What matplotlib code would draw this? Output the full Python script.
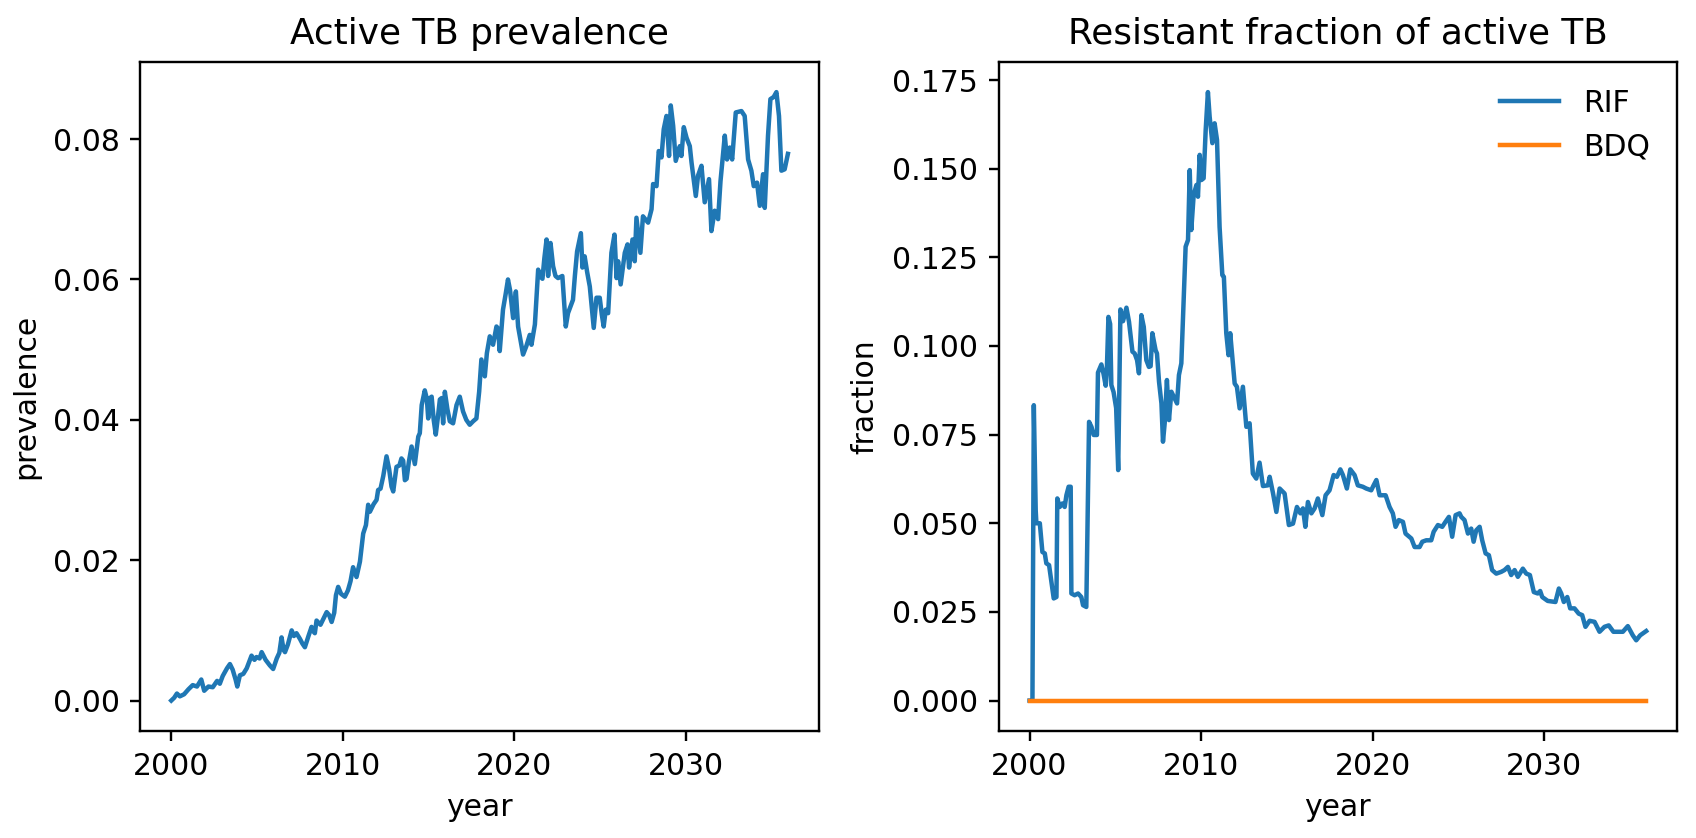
import matplotlib
matplotlib.use("Agg")
import matplotlib.pyplot as plt
from matplotlib.ticker import MultipleLocator

# active TB prevalence
prev_years = [
    2000.00, 2000.17, 2000.33, 2000.50, 2000.75, 2001.00, 2001.25, 2001.50, 2001.75, 2001.92,
    2002.17, 2002.42, 2002.67, 2002.83, 2003.00, 2003.25, 2003.42, 2003.58, 2003.75, 2003.85,
    2004.00, 2004.20, 2004.40, 2004.68, 2004.85, 2004.97, 2005.15, 2005.27, 2005.50, 2005.75,
    2005.94, 2006.15, 2006.30, 2006.43, 2006.55, 2006.63, 2006.80, 2007.02, 2007.15, 2007.30,
    2007.50, 2007.65, 2007.79, 2008.00, 2008.18, 2008.30, 2008.37, 2008.47, 2008.70, 2008.90,
    2009.06, 2009.20, 2009.35, 2009.50, 2009.60, 2009.73, 2009.90, 2010.12, 2010.30, 2010.45,
    2010.60, 2010.80, 2011.00, 2011.19, 2011.35, 2011.48, 2011.58, 2011.80, 2011.97, 2012.06,
    2012.20, 2012.36, 2012.55, 2012.70, 2012.84, 2012.94, 2013.13, 2013.30, 2013.42, 2013.52,
    2013.62, 2013.72, 2013.85, 2014.01, 2014.20, 2014.40, 2014.49, 2014.60, 2014.78, 2014.90,
    2014.98, 2015.08, 2015.18, 2015.30, 2015.42, 2015.55, 2015.66, 2015.76, 2015.85, 2015.95,
    2016.10, 2016.24, 2016.43, 2016.63, 2016.82, 2017.01, 2017.20, 2017.40, 2017.60, 2017.79,
    2017.95, 2018.08, 2018.28, 2018.40, 2018.57, 2018.76, 2018.96, 2019.05, 2019.15, 2019.34,
    2019.50, 2019.63, 2019.75, 2019.93, 2020.09, 2020.22, 2020.35, 2020.51, 2020.70, 2020.90,
    2021.00, 2021.20, 2021.39, 2021.49, 2021.64, 2021.75, 2021.88, 2021.97, 2022.11, 2022.26,
    2022.40, 2022.55, 2022.80, 2022.90, 2023.00, 2023.13, 2023.42, 2023.53, 2023.66, 2023.88,
    2023.97, 2024.10, 2024.25, 2024.40, 2024.52, 2024.63, 2024.79, 2024.98, 2025.10, 2025.21,
    2025.33, 2025.47, 2025.66, 2025.84, 2025.96, 2026.05, 2026.20, 2026.44, 2026.60, 2026.69,
    2026.89, 2027.02, 2027.12, 2027.35, 2027.50, 2027.80, 2028.00, 2028.09, 2028.29, 2028.42,
    2028.58, 2028.71, 2028.87, 2029.02, 2029.12, 2029.26, 2029.41, 2029.65, 2029.74, 2029.88,
    2030.04, 2030.23, 2030.33, 2030.58, 2030.71, 2030.91, 2031.10, 2031.35, 2031.49, 2031.68,
    2031.88, 2032.02, 2032.27, 2032.40, 2032.56, 2032.70, 2032.91, 2033.24, 2033.43, 2033.63,
    2033.82, 2033.96, 2034.15, 2034.31, 2034.50, 2034.60, 2034.79, 2034.93, 2035.12, 2035.28,
    2035.43, 2035.57, 2035.76, 2035.95,
]
prevalence = [
    0.0000, 0.0004, 0.0010, 0.0006, 0.0009, 0.0016, 0.0022, 0.0020, 0.0030, 0.0014,
    0.0020, 0.0019, 0.0028, 0.0024, 0.0035, 0.0046, 0.0052, 0.0044, 0.0030, 0.0020,
    0.0036, 0.0038, 0.0046, 0.0064, 0.0058, 0.0062, 0.0060, 0.0069, 0.0058, 0.0050,
    0.0045, 0.0060, 0.0068, 0.0090, 0.0072, 0.0069, 0.0080, 0.0100, 0.0092, 0.0096,
    0.0088, 0.0081, 0.0076, 0.0092, 0.0105, 0.0098, 0.0096, 0.0114, 0.0108, 0.0118,
    0.0126, 0.0122, 0.0112, 0.0125, 0.0150, 0.0162, 0.0152, 0.0148, 0.0157, 0.0170,
    0.0190, 0.0176, 0.0198, 0.0238, 0.0250, 0.0279, 0.0269, 0.0280, 0.0286, 0.0300,
    0.0302, 0.0320, 0.0348, 0.0330, 0.0305, 0.0298, 0.0333, 0.0335, 0.0345, 0.0342,
    0.0314, 0.0316, 0.0340, 0.0362, 0.0337, 0.0376, 0.0381, 0.0421, 0.0442, 0.0430,
    0.0402, 0.0431, 0.0433, 0.0400, 0.0379, 0.0405, 0.0429, 0.0431, 0.0395, 0.0440,
    0.0415, 0.0398, 0.0395, 0.0421, 0.0433, 0.0412, 0.0400, 0.0393, 0.0398, 0.0402,
    0.0440, 0.0486, 0.0462, 0.0495, 0.0519, 0.0507, 0.0533, 0.0530, 0.0498, 0.0557,
    0.0580, 0.0600, 0.0585, 0.0545, 0.0583, 0.0533, 0.0515, 0.0493, 0.0505, 0.0521,
    0.0507, 0.0536, 0.0614, 0.0605, 0.0601, 0.0630, 0.0657, 0.0605, 0.0652, 0.0619,
    0.0605, 0.0602, 0.0605, 0.0570, 0.0533, 0.0552, 0.0571, 0.0605, 0.0640, 0.0666,
    0.0617, 0.0633, 0.0610, 0.0590, 0.0560, 0.0531, 0.0574, 0.0574, 0.0550, 0.0533,
    0.0557, 0.0552, 0.0638, 0.0664, 0.0602, 0.0626, 0.0593, 0.0638, 0.0650, 0.0617,
    0.0657, 0.0626, 0.0688, 0.0638, 0.0690, 0.0681, 0.0700, 0.0736, 0.0733, 0.0783,
    0.0774, 0.0814, 0.0833, 0.0776, 0.0848, 0.0819, 0.0769, 0.0790, 0.0776, 0.0817,
    0.0802, 0.0790, 0.0767, 0.0719, 0.0748, 0.0762, 0.0710, 0.0743, 0.0669, 0.0698,
    0.0686, 0.0740, 0.0805, 0.0771, 0.0788, 0.0771, 0.0838, 0.0840, 0.0833, 0.0771,
    0.0755, 0.0733, 0.0738, 0.0705, 0.0750, 0.0702, 0.0805, 0.0857, 0.0860, 0.0867,
    0.0833, 0.0755, 0.0757, 0.0779,
]

# resistant fraction of active TB
rif_years = [
    2000.00, 2000.17, 2000.25, 2000.36, 2000.40, 2000.60, 2000.75, 2000.89, 2000.98, 2001.14,
    2001.41, 2001.57, 2001.62, 2001.76, 2001.92, 2002.05, 2002.15, 2002.28, 2002.40, 2002.44,
    2002.63, 2002.83, 2003.02, 2003.12, 2003.31, 2003.47, 2003.61, 2003.74, 2003.93, 2003.99,
    2004.19, 2004.32, 2004.44, 2004.50, 2004.60, 2004.70, 2004.77, 2004.90, 2005.05, 2005.17,
    2005.30, 2005.45, 2005.65, 2005.80, 2006.00, 2006.13, 2006.27, 2006.38, 2006.52, 2006.66,
    2006.81, 2006.96, 2007.06, 2007.16, 2007.35, 2007.43, 2007.55, 2007.69, 2007.78, 2007.88,
    2008.01, 2008.13, 2008.27, 2008.46, 2008.60, 2008.71, 2008.85, 2008.95, 2009.10, 2009.24,
    2009.34, 2009.43, 2009.57, 2009.73, 2009.82, 2009.92, 2010.02, 2010.15, 2010.27, 2010.40,
    2010.50, 2010.66, 2010.79, 2010.93, 2011.08, 2011.24, 2011.33, 2011.47, 2011.60, 2011.70,
    2011.82, 2011.96, 2012.09, 2012.25, 2012.44, 2012.64, 2012.83, 2013.02, 2013.22, 2013.41,
    2013.61, 2013.90, 2014.00, 2014.19, 2014.39, 2014.58, 2014.87, 2015.12, 2015.36, 2015.59,
    2015.79, 2015.94, 2016.08, 2016.23, 2016.43, 2016.62, 2016.81, 2017.07, 2017.26, 2017.49,
    2017.73, 2017.92, 2018.12, 2018.27, 2018.50, 2018.70, 2018.95, 2019.14, 2019.43, 2019.63,
    2019.92, 2020.06, 2020.22, 2020.41, 2020.76, 2020.99, 2021.18, 2021.34, 2021.53, 2021.77,
    2021.92, 2022.26, 2022.45, 2022.74, 2022.90, 2023.13, 2023.42, 2023.56, 2023.81, 2024.06,
    2024.25, 2024.45, 2024.64, 2024.84, 2025.07, 2025.17, 2025.36, 2025.56, 2025.75, 2025.89,
    2026.04, 2026.24, 2026.39, 2026.59, 2026.78, 2026.97, 2027.21, 2027.50, 2027.69, 2027.89,
    2028.08, 2028.28, 2028.47, 2028.76, 2028.96, 2029.17, 2029.40, 2029.63, 2029.77, 2029.89,
    2030.21, 2030.66, 2030.86, 2031.00, 2031.15, 2031.35, 2031.52, 2031.77, 2032.02, 2032.22,
    2032.41, 2032.65, 2032.94, 2033.23, 2033.52, 2033.77, 2034.04, 2034.59, 2034.88, 2035.17,
    2035.37, 2035.60, 2035.95,
]
rif_fraction = [
    0.0000, 0.0000, 0.0833, 0.0537, 0.0500, 0.0500, 0.0419, 0.0415, 0.0387, 0.0382,
    0.0288, 0.0292, 0.0570, 0.0546, 0.0556, 0.0546, 0.0579, 0.0603, 0.0603, 0.0302,
    0.0297, 0.0302, 0.0292, 0.0269, 0.0264, 0.0786, 0.0772, 0.0749, 0.0749, 0.0925,
    0.0948, 0.0920, 0.0888, 0.0920, 0.1082, 0.1062, 0.0890, 0.0870, 0.0825, 0.0650,
    0.1103, 0.1070, 0.1108, 0.1068, 0.0984, 0.0979, 0.0960, 0.0923, 0.1087, 0.1054,
    0.0960, 0.0941, 0.0943, 0.1036, 0.0988, 0.0979, 0.0899, 0.0838, 0.0730, 0.0782,
    0.0904, 0.0791, 0.0871, 0.0852, 0.0838, 0.0918, 0.0951, 0.1082, 0.1280, 0.1299,
    0.1496, 0.1327, 0.1426, 0.1454, 0.1421, 0.1539, 0.1468, 0.1473, 0.1609, 0.1716,
    0.1647, 0.1572, 0.1628, 0.1581, 0.1336, 0.1200, 0.1195, 0.1036, 0.0974, 0.1036,
    0.0970, 0.0894, 0.0885, 0.0824, 0.0885, 0.0772, 0.0782, 0.0640, 0.0626, 0.0671,
    0.0605, 0.0607, 0.0631, 0.0586, 0.0532, 0.0598, 0.0584, 0.0495, 0.0499, 0.0546,
    0.0528, 0.0542, 0.0490, 0.0560, 0.0528, 0.0542, 0.0570, 0.0523, 0.0579, 0.0593,
    0.0636, 0.0631, 0.0652, 0.0636, 0.0598, 0.0652, 0.0636, 0.0607, 0.0603, 0.0598,
    0.0593, 0.0607, 0.0622, 0.0579, 0.0579, 0.0546, 0.0528, 0.0490, 0.0509, 0.0504,
    0.0471, 0.0457, 0.0433, 0.0433, 0.0448, 0.0452, 0.0452, 0.0476, 0.0495, 0.0490,
    0.0504, 0.0518, 0.0462, 0.0523, 0.0528, 0.0518, 0.0509, 0.0471, 0.0485, 0.0448,
    0.0480, 0.0490, 0.0452, 0.0415, 0.0410, 0.0368, 0.0358, 0.0363, 0.0368, 0.0377,
    0.0354, 0.0368, 0.0349, 0.0372, 0.0358, 0.0354, 0.0306, 0.0302, 0.0309, 0.0292,
    0.0281, 0.0278, 0.0316, 0.0302, 0.0278, 0.0292, 0.0260, 0.0260, 0.0245, 0.0241,
    0.0208, 0.0225, 0.0222, 0.0194, 0.0208, 0.0212, 0.0194, 0.0194, 0.0210, 0.0184,
    0.0170, 0.0184, 0.0196,
]

# BDQ resistance stays at zero the whole time
bdq_years = [2000.00, 2035.95]
bdq_fraction = [0.0, 0.0]

DPI = 215
fig, (ax1, ax2) = plt.subplots(1, 2, figsize=(1696 / DPI, 838 / DPI), dpi=DPI)
fig.subplots_adjust(left=0.0828, right=0.9888, bottom=0.1277, top=0.9264, wspace=0.2653)

ax1.plot(prev_years, prevalence)
ax1.set_title("Active TB prevalence")
ax1.set_xlabel("year")
ax1.set_ylabel("prevalence")
ax1.xaxis.set_major_locator(MultipleLocator(10))

ax2.plot(rif_years, rif_fraction, label="RIF")
ax2.plot(bdq_years, bdq_fraction, label="BDQ")
ax2.set_title("Resistant fraction of active TB")
ax2.set_xlabel("year")
ax2.set_ylabel("fraction")
ax2.xaxis.set_major_locator(MultipleLocator(10))
ax2.legend(frameon=False, loc="upper right")

fig.savefig("out.png", dpi=DPI)
